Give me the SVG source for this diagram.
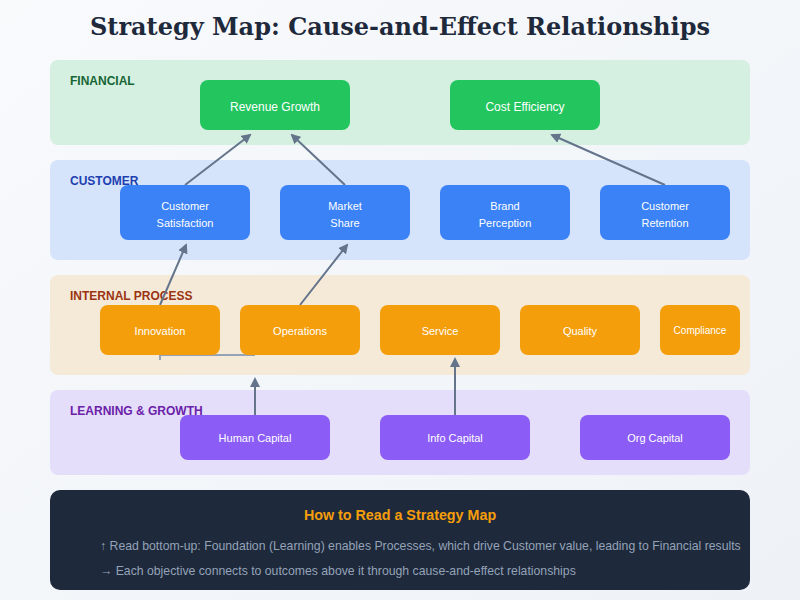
<svg xmlns="http://www.w3.org/2000/svg" width="800" height="600" viewBox="0 0 800 600">
<defs>
<linearGradient id="bg" x1="0" y1="0" x2="1" y2="1"><stop offset="0" stop-color="#f8fafc"/><stop offset="1" stop-color="#eef2f7"/></linearGradient>
<marker id="ar" markerWidth="10" markerHeight="10" refX="8" refY="5" orient="auto" markerUnits="userSpaceOnUse"><path d="M0,0 L10,5 L0,10 Z" fill="#64748b"/></marker>
</defs>
<style>
text{font-family:"Liberation Sans",Arial,sans-serif}
.lbl{font-size:12px;font-weight:bold}
.n{fill:#fff;font-size:11px;text-anchor:middle}
.n.big{font-size:12px}
.n.sm{font-size:10px}
.c{stroke:#64748b;stroke-width:2;fill:none;marker-end:url(#ar)}
</style>
<rect width="800" height="600" fill="url(#bg)"/>
<text x="400" y="35" text-anchor="middle" style="font-family:'DejaVu Serif','Liberation Serif',serif;font-size:24px;font-weight:bold" fill="#1e293b">Strategy Map: Cause-and-Effect Relationships</text>
<rect x="50" y="60" width="700" height="85" rx="8" fill="#d5f0e1"/>
<rect x="50" y="160" width="700" height="100" rx="8" fill="#d6e4fb"/>
<rect x="50" y="275" width="700" height="100" rx="8" fill="#f5e9d8"/>
<rect x="50" y="390" width="700" height="85" rx="8" fill="#e4defb"/>
<text x="70" y="85" class="lbl" fill="#166534">FINANCIAL</text>
<text x="70" y="185" class="lbl" fill="#1e40af">CUSTOMER</text>
<text x="70" y="300" class="lbl" fill="#9a3412">INTERNAL PROCESS</text>
<text x="70" y="415" class="lbl" fill="#6b21a8">LEARNING &amp; GROWTH</text>
<g id="connectors">
<line class="c" x1="185" y1="185" x2="250" y2="135"/>
<line class="c" x1="345" y1="185" x2="292" y2="135"/>
<line class="c" x1="665" y1="185" x2="552" y2="135"/>
<line class="c" x1="160" y1="305" x2="186" y2="245"/>
<line class="c" x1="300" y1="305" x2="347" y2="245"/>
<line class="c" x1="255" y1="415" x2="255" y2="379"/>
<line class="c" x1="455" y1="415" x2="455" y2="359"/>
<polyline points="160,360 160,355 255,355" stroke="#94a3b8" stroke-width="2" fill="none"/>
</g>
<g id="revenue"><rect x="200" y="80" width="150" height="50" rx="8" fill="#22c55e"/><text class="n big" x="275" y="111">Revenue Growth</text></g>
<g id="cost"><rect x="450" y="80" width="150" height="50" rx="8" fill="#22c55e"/><text class="n big" x="525" y="111">Cost Efficiency</text></g>
<g id="custsat"><rect x="120" y="185" width="130" height="55" rx="8" fill="#3b82f6"/><text class="n" x="185" y="210">Customer</text><text class="n" x="185" y="227">Satisfaction</text></g>
<g id="market"><rect x="280" y="185" width="130" height="55" rx="8" fill="#3b82f6"/><text class="n" x="345" y="210">Market</text><text class="n" x="345" y="227">Share</text></g>
<g id="brand"><rect x="440" y="185" width="130" height="55" rx="8" fill="#3b82f6"/><text class="n" x="505" y="210">Brand</text><text class="n" x="505" y="227">Perception</text></g>
<g id="retention"><rect x="600" y="185" width="130" height="55" rx="8" fill="#3b82f6"/><text class="n" x="665" y="210">Customer</text><text class="n" x="665" y="227">Retention</text></g>
<g id="innovation"><rect x="100" y="305" width="120" height="50" rx="8" fill="#f59e0b"/><text class="n" x="160" y="335">Innovation</text></g>
<g id="operations"><rect x="240" y="305" width="120" height="50" rx="8" fill="#f59e0b"/><text class="n" x="300" y="335">Operations</text></g>
<g id="service"><rect x="380" y="305" width="120" height="50" rx="8" fill="#f59e0b"/><text class="n" x="440" y="335">Service</text></g>
<g id="quality"><rect x="520" y="305" width="120" height="50" rx="8" fill="#f59e0b"/><text class="n" x="580" y="335">Quality</text></g>
<g id="compliance"><rect x="660" y="305" width="80" height="50" rx="8" fill="#f59e0b"/><text class="n sm" x="700" y="334">Compliance</text></g>
<g id="human"><rect x="180" y="415" width="150" height="45" rx="8" fill="#8b5cf6"/><text class="n" x="255" y="442">Human Capital</text></g>
<g id="info"><rect x="380" y="415" width="150" height="45" rx="8" fill="#8b5cf6"/><text class="n" x="455" y="442">Info Capital</text></g>
<g id="org"><rect x="580" y="415" width="150" height="45" rx="8" fill="#8b5cf6"/><text class="n" x="655" y="442">Org Capital</text></g>
<g id="legend">
<rect x="50" y="490" width="700" height="100" rx="10" fill="#1e293b"/>
<text x="400" y="520" text-anchor="middle" font-size="14.3" font-weight="bold" fill="#f59e0b">How to Read a Strategy Map</text>
<text x="100" y="550" font-size="12.25" fill="#94a3b8">↑ Read bottom-up: Foundation (Learning) enables Processes, which drive Customer value, leading to Financial results</text>
<text x="100" y="575" font-size="12.25" fill="#94a3b8">→ Each objective connects to outcomes above it through cause-and-effect relationships</text>
</g>
</svg>
